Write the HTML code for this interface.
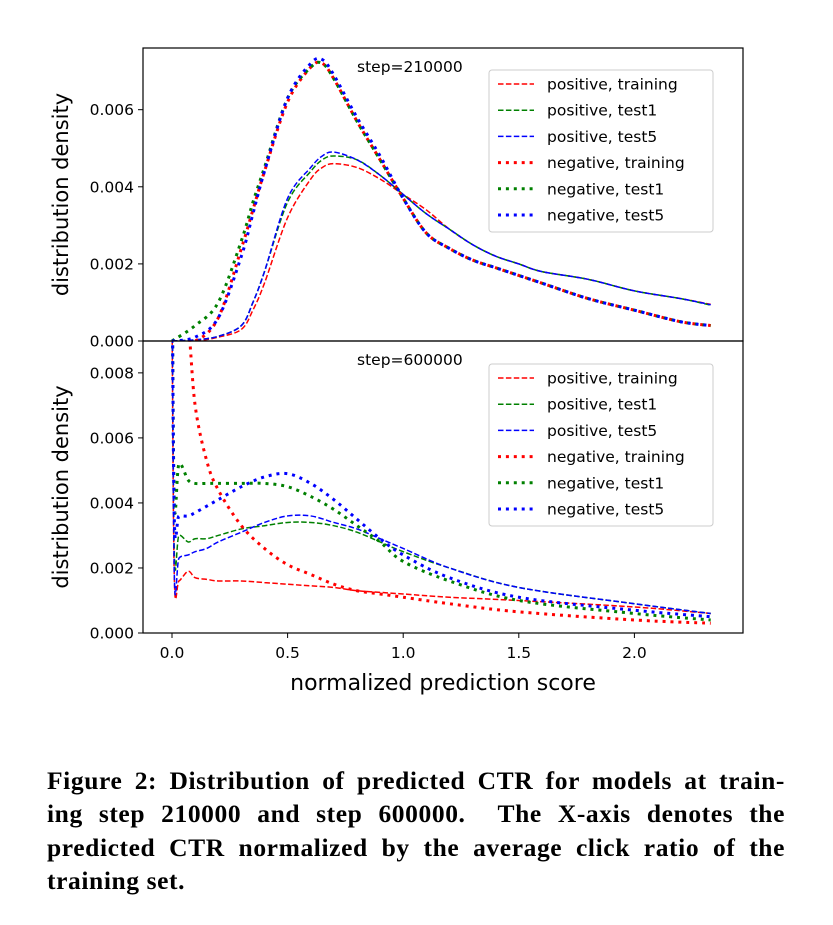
<!DOCTYPE html>
<html><head><meta charset="utf-8"><style>
body{margin:0;background:#fff;width:833px;height:925px;overflow:hidden;position:relative}
svg{position:absolute;left:0;top:0}
#cap{position:absolute;left:47px;top:764px;width:738px;font-family:"Liberation Serif",serif;font-weight:bold;font-size:25.5px;letter-spacing:0.6px;line-height:33.3px;color:#000}
#cap div{text-align:justify;text-align-last:justify;white-space:nowrap}
#cap div.last{text-align-last:left}
</style></head><body>
<svg id="chart" width="833" height="740" font-family="DejaVu Sans, Liberation Sans, sans-serif"></svg>
<div id="cap">
<div>Figure 2: Distribution of predicted CTR for models at train-</div>
<div>ing step 210000 and step 600000. &nbsp;The X-axis denotes the</div>
<div>predicted CTR normalized by the average click ratio of the</div>
<div class="last">training set.</div>
</div>
<script>
const xTicks=[0,0.5,1.0,1.5,2.0];
const xTickLabels=["0.0","0.5","1.0","1.5","2.0"];
const topYTicks=[0,0.002,0.004,0.006];
const topYTickLabels=["0.000","0.002","0.004","0.006"];
const botYTicks=[0,0.002,0.004,0.006,0.008];
const botYTickLabels=["0.000","0.002","0.004","0.006","0.008"];
const seriesNames=["positive, training","positive, test1","positive, test5","negative, training","negative, test1","negative, test5"];
const topX=[0,0.1,0.2,0.3,0.35,0.4,0.5,0.6,0.65,0.7,0.8,0.9,1.0,1.1,1.2,1.3,1.4,1.5,1.6,1.8,2.0,2.2,2.33];
const topPosTraining=[0,0,0.0001,0.0003,0.0008,0.0015,0.0032,0.0042,0.0045,0.0046,0.0045,0.0042,0.0038,0.0034,0.0029,0.0025,0.0022,0.002,0.0018,0.0016,0.0013,0.0011,0.00095];
const topPosTest1=[0,0.00003,0.00012,0.0004,0.001,0.0018,0.0036,0.0044,0.0047,0.0048,0.0047,0.0043,0.0038,0.0033,0.0029,0.0025,0.0022,0.002,0.0018,0.0016,0.0013,0.0011,0.00093];
const topPosTest5=[0,0.00003,0.00012,0.0004,0.001,0.0018,0.0037,0.0045,0.0048,0.0049,0.0047,0.0043,0.0038,0.0033,0.0029,0.0025,0.0022,0.002,0.0018,0.0016,0.0013,0.0011,0.00094];
const topNegTraining=[0,0,0.0006,0.0024,0.0034,0.0044,0.0062,0.0071,0.0072,0.0068,0.0057,0.0047,0.0037,0.0028,0.0024,0.0021,0.0019,0.0017,0.0015,0.0011,0.0008,0.0005,0.0004];
const topNegTest1=[0,0.0004,0.001,0.0026,0.0036,0.0045,0.0063,0.0071,0.0072,0.0068,0.0057,0.0047,0.0037,0.0028,0.0024,0.0021,0.0019,0.0017,0.0015,0.0011,0.0008,0.0005,0.0004];
const topNegTest5=[0,0.0001,0.0006,0.0022,0.0033,0.0044,0.0063,0.0072,0.0073,0.0069,0.0058,0.0048,0.0037,0.0028,0.0024,0.0021,0.0019,0.0017,0.0015,0.0011,0.0008,0.0005,0.0004];
const botX=[0,0.01,0.03,0.07,0.1,0.15,0.2,0.3,0.4,0.5,0.6,0.7,0.8,0.9,1.0,1.2,1.5,2.0,2.33];
const botPosTraining=[0.01,0.0017,0.0016,0.0019,0.0017,0.00165,0.0016,0.0016,0.00155,0.0015,0.00145,0.0014,0.0013,0.00125,0.0012,0.0011,0.001,0.0008,0.0006];
const botPosTest1=[0.012,0.0025,0.003,0.0028,0.0029,0.0029,0.003,0.0032,0.0033,0.0034,0.0034,0.0033,0.0031,0.0028,0.0025,0.002,0.0014,0.0009,0.0006];
const botPosTest5=[0.012,0.0018,0.0023,0.0024,0.0025,0.0026,0.0028,0.0031,0.0034,0.0036,0.0036,0.0034,0.0032,0.0029,0.0026,0.002,0.0014,0.0009,0.0006];
const botNegTraining=[0.012,0.012,0.011,0.0095,0.007,0.0053,0.0044,0.0033,0.0026,0.0021,0.0018,0.0015,0.0013,0.0012,0.0011,0.0009,0.00065,0.0004,0.0003];
const botNegTest1=[0.012,0.004,0.0052,0.0047,0.0046,0.0046,0.0046,0.0046,0.0046,0.0045,0.0042,0.0038,0.0033,0.0028,0.0022,0.0016,0.001,0.0006,0.0004];
const botNegTest5=[0.012,0.0035,0.0036,0.0036,0.0037,0.0039,0.0041,0.0045,0.0048,0.0049,0.0046,0.0041,0.0035,0.0029,0.0024,0.0017,0.0011,0.0007,0.0005];

const NS="http://www.w3.org/2000/svg";
const svg=document.getElementById('chart');
const L=143,R=743;
const xs=v=>172+v*231.2;
const colors=["#ff0000","#008000","#0000ff","#ff0000","#008000","#0000ff"];
function el(t,a,p){const e=document.createElementNS(NS,t);for(const k in a)e.setAttribute(k,a[k]);(p||svg).appendChild(e);return e;}
function smooth(pts){let d="M"+pts[0][0]+","+pts[0][1];for(let i=0;i<pts.length-1;i++){const p0=pts[Math.max(i-1,0)],p1=pts[i],p2=pts[i+1],p3=pts[Math.min(i+2,pts.length-1)];const c1=[p1[0]+(p2[0]-p0[0])/6,p1[1]+(p2[1]-p0[1])/6],c2=[p2[0]-(p3[0]-p1[0])/6,p2[1]-(p3[1]-p1[1])/6];d+=" C"+c1+" "+c2+" "+p2;}return d;}
function panel(id,top,bot,ymax,yT,yTL,xArr,series,stepLabel,legTop,showX){
  const ys=v=>bot-v/ymax*(bot-top);
  const clip=el('clipPath',{id:'clip'+id});
  el('rect',{x:L,y:top,width:R-L,height:bot-top},clip);
  const g=el('g',{'clip-path':'url(#clip'+id+')'});
  
  
  series.forEach((s,i)=>{
    const pts=xArr.map((x,j)=>[xs(x),ys(s[j])]);
    const dotted=i>=3;
    const p=el('path',{d:smooth(pts),fill:'none',stroke:colors[i],'stroke-width':dotted?3:1.5,'stroke-dasharray':dotted?'3 4.9':'5.5 2.4'},g);
    
    
  });
  const fr=el('rect',{x:L,y:top,width:R-L,height:bot-top,fill:'none',stroke:'#000','stroke-width':1.2});
  
  
  yT.forEach((v,i)=>{
    el('line',{x1:L-5,x2:L,y1:ys(v),y2:ys(v),stroke:'#000','stroke-width':1});
    const t=el('text',{x:L-9,y:ys(v)+5.5,'text-anchor':'end','font-size':15.5});
    t.textContent=yTL[i];
    
    
  });
  if(showX){xTicks.forEach((v,i)=>{
    el('line',{x1:xs(v),x2:xs(v),y1:bot,y2:bot+5,stroke:'#000','stroke-width':1});
    const t=el('text',{x:xs(v),y:bot+25,'text-anchor':'middle','font-size':15.5});
    t.textContent=xTickLabels[i];
    
    
  });}
  const yt=el('text',{x:0,y:0,'text-anchor':'middle','font-size':21,transform:'translate(68,'+((top+bot)/2)+') rotate(-90)'});
  yt.textContent='distribution density';
  
  
  const st=el('text',{x:357,y:top+24,'font-size':15.5});
  st.textContent=stepLabel;
  
  
  const lg=el('g',{});
  
  
  el('rect',{x:489,y:legTop,width:224,height:162,rx:3,fill:'#fff','fill-opacity':0.8,stroke:'#ccc','stroke-width':1},lg);
  seriesNames.forEach((n,i)=>{
    const y=legTop+14+i*26.2;
    const dotted=i>=3;
    el('line',{x1:498,x2:534,y1:y,y2:y,stroke:colors[i],'stroke-width':dotted?3:1.5,'stroke-dasharray':dotted?'3 4.9':'5.5 2.4'},lg);
    const t=el('text',{x:547,y:y+5.5,'font-size':15.5},lg);
    t.textContent=n;
    
    
  });
}
panel('top-panel',48,341,0.0076,topYTicks,topYTickLabels,topX,[topPosTraining,topPosTest1,topPosTest5,topNegTraining,topNegTest1,topNegTest5],'step=210000',70,false);
panel('bottom-panel',341,633,0.00898,botYTicks,botYTickLabels,botX,[botPosTraining,botPosTest1,botPosTest5,botNegTraining,botNegTest1,botNegTest5],'step=600000',364,true);
const xt=el('text',{x:443,y:690,'text-anchor':'middle','font-size':22});
xt.textContent='normalized prediction score';


</script>
</body></html>
